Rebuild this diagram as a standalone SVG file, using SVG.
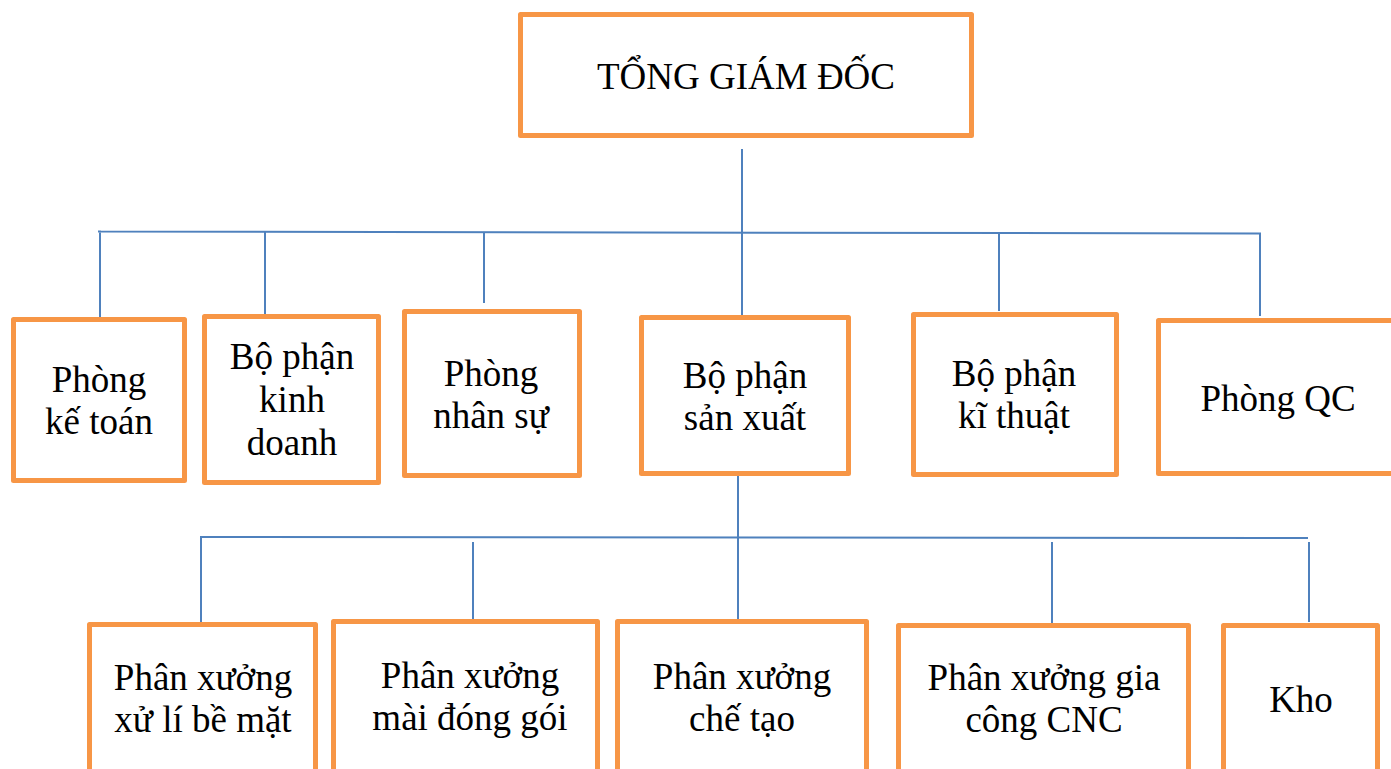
<svg xmlns="http://www.w3.org/2000/svg" width="1391" height="769" viewBox="0 0 1391 769">
  <style>
    .box { fill: #FFFFFF; stroke: #F79646; stroke-width: 5; stroke-linejoin: round; }
    .lbl { font-family: "Liberation Serif", "Times New Roman", serif; font-size: 37px; fill: #000000; text-anchor: middle; }
    .link { fill: none; stroke: #4F81BD; stroke-width: 2; }
  </style>
  <rect width="1391" height="769" fill="#FFFFFF"/>

  <!-- connectors -->
  <g id="connectors">
    <!-- top level bus -->
    <line class="link" x1="742" y1="149" x2="742" y2="316"/>
    <polyline class="link" points="100,319 100,231.5 98,231.5 1259,233.5 1260,233.5 1260,316"/>
    <line class="link" x1="265" y1="232" x2="265" y2="315"/>
    <line class="link" x1="484" y1="232" x2="484" y2="303"/>
    <line class="link" x1="999" y1="233" x2="999" y2="311"/>
    <!-- production sub-level bus -->
    <line class="link" x1="738" y1="476" x2="738" y2="620"/>
    <polyline class="link" points="201,622 201,537 1308,538"/>
    <line class="link" x1="473" y1="542" x2="473" y2="620"/>
    <line class="link" x1="1052" y1="542" x2="1052" y2="625"/>
    <line class="link" x1="1309" y1="542" x2="1309" y2="622"/>
  </g>

  <g id="tong-giam-doc">
    <rect class="box" x="520.5" y="14.5" width="451" height="121"/>
    <text class="lbl" x="746" y="89">TỔNG GIÁM ĐỐC</text>
  </g>

  <g id="phong-ke-toan">
    <rect class="box" x="13.5" y="319.5" width="171" height="161"/>
    <text class="lbl" x="99" y="392">Phòng</text>
    <text class="lbl" x="99" y="434">kế toán</text>
  </g>

  <g id="bo-phan-kinh-doanh">
    <rect class="box" x="204.5" y="316.5" width="174" height="166"/>
    <text class="lbl" x="292" y="369">Bộ phận</text>
    <text class="lbl" x="292" y="412">kinh</text>
    <text class="lbl" x="292" y="455">doanh</text>
  </g>

  <g id="phong-nhan-su">
    <rect class="box" x="404.5" y="311.5" width="175" height="164"/>
    <text class="lbl" x="491" y="386">Phòng</text>
    <text class="lbl" x="491" y="428">nhân sự</text>
  </g>

  <g id="bo-phan-san-xuat">
    <rect class="box" x="641.5" y="317.5" width="207" height="156"/>
    <text class="lbl" x="745" y="388">Bộ phận</text>
    <text class="lbl" x="745" y="430">sản xuất</text>
  </g>

  <g id="bo-phan-ki-thuat">
    <rect class="box" x="913.5" y="314.5" width="203" height="160"/>
    <text class="lbl" x="1014" y="386">Bộ phận</text>
    <text class="lbl" x="1014" y="428">kĩ thuật</text>
  </g>

  <g id="phong-qc">
    <rect class="box" x="1158.5" y="320.5" width="245" height="153"/>
    <text class="lbl" x="1278" y="411">Phòng QC</text>
  </g>

  <g id="px-xu-li-be-mat">
    <rect class="box" x="89.5" y="624.5" width="226" height="180"/>
    <text class="lbl" x="203" y="690">Phân xưởng</text>
    <text class="lbl" x="203" y="732">xử lí bề mặt</text>
  </g>

  <g id="px-mai-dong-goi">
    <rect class="box" x="333.5" y="621.5" width="264" height="180"/>
    <text class="lbl" x="470" y="688">Phân xưởng</text>
    <text class="lbl" x="470" y="730">mài đóng gói</text>
  </g>

  <g id="px-che-tao">
    <rect class="box" x="617.5" y="621.5" width="249" height="180"/>
    <text class="lbl" x="742" y="689">Phân xưởng</text>
    <text class="lbl" x="742" y="731">chế tạo</text>
  </g>

  <g id="px-gia-cong-cnc">
    <rect class="box" x="898.5" y="625.5" width="290" height="180"/>
    <text class="lbl" x="1044" y="690">Phân xưởng gia</text>
    <text class="lbl" x="1044" y="732">công CNC</text>
  </g>

  <g id="kho">
    <rect class="box" x="1223.5" y="625.5" width="154" height="180"/>
    <text class="lbl" x="1301" y="712">Kho</text>
  </g>
</svg>
